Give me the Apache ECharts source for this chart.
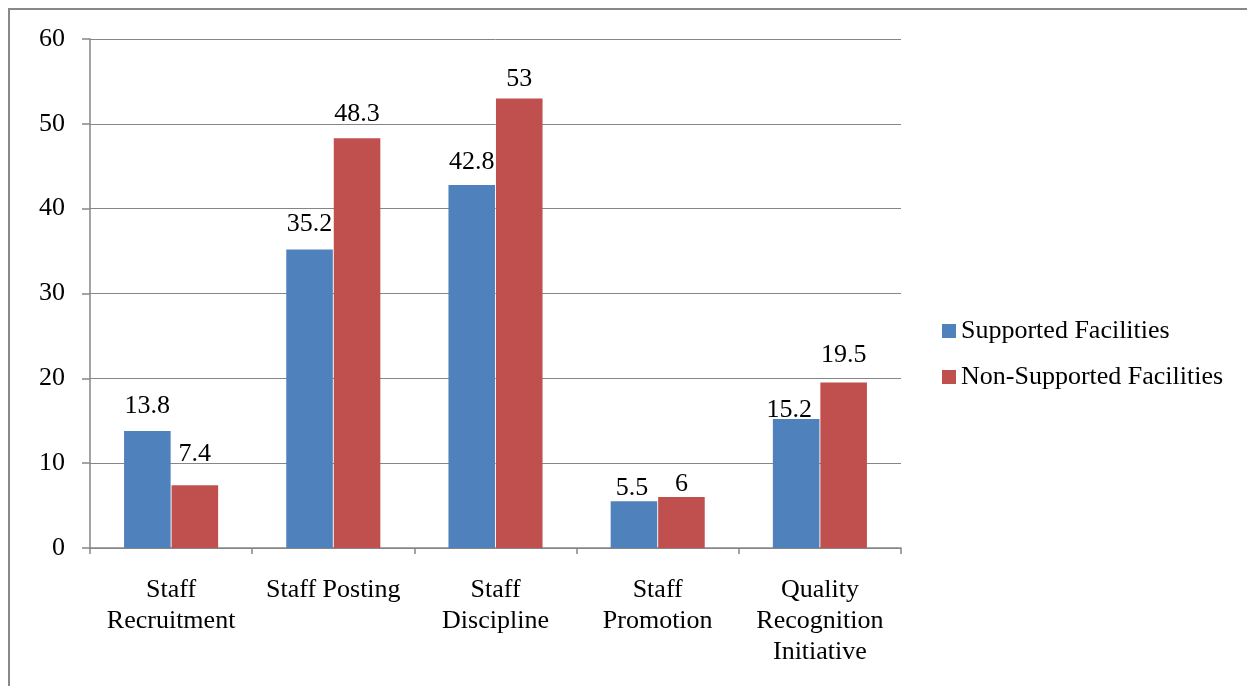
<!DOCTYPE html>
<html>
<head>
<meta charset="utf-8">
<script src="https://cdn.jsdelivr.net/npm/echarts@6/dist/echarts.min.js"></script>
<style>
  html, body { margin: 0; padding: 0; background: #fff; }
  #main { width: 1247px; height: 686px; }
</style>
</head>
<body>
<div id="main"></div>
<script>
var categories = ['Staff\nRecruitment', 'Staff Posting', 'Staff\nDiscipline', 'Staff\nPromotion', 'Quality\nRecognition\nInitiative'];
var supported = [13.8, 35.2, 42.8, 5.5, 15.2];
var nonSupported = [7.4, 48.3, 53, 6, 19.5];
var seriesNames = ['Supported Facilities', 'Non-Supported Facilities'];

// label lift above each bar, as in the original (labels were hand placed)
var liftSupported = [12, 12, 10, 0, -4];
var liftNonSupported = [18, 11, 6, 0, 14];
var shiftSupported = [0, 0, 0, -2, -7];

var font = '"Liberation Serif", "Times New Roman", serif';

function buildItems(values, lifts, shifts) {
  return values.map(function (v, i) {
    return {
      value: v,
      label: { distance: lifts[i], offset: [shifts ? shifts[i] : 0, 0] }
    };
  });
}

var myChart = echarts.init(document.getElementById('main'));

var barLabel = { show: true, position: 'top', fontFamily: font, fontSize: 26, color: '#000' };

var option = {
  animation: false,
  textStyle: { fontFamily: font },
  graphic: [{
    type: 'rect',
    shape: { x: 9, y: 9, width: 1400, height: 900 },
    style: { fill: 'none', stroke: '#888888', lineWidth: 2 },
    silent: true
  }],
  legend: {
    orient: 'vertical',
    left: 937,
    top: 313,
    itemWidth: 14,
    itemHeight: 14,
    itemGap: 20,
    icon: 'rect',
    textStyle: { fontFamily: font, fontSize: 26, color: '#000' },
    data: seriesNames
  },
  grid: { left: 90, right: 346, top: 39, bottom: 138, containLabel: false },
  xAxis: {
    type: 'category',
    data: categories,
    axisLine: { lineStyle: { color: '#868686', width: 1.5 } },
    axisTick: { show: true, length: 6, lineStyle: { color: '#868686', width: 1.5 } },
    axisLabel: { fontFamily: font, fontSize: 26, color: '#000', margin: 27, lineHeight: 31, interval: 0 }
  },
  yAxis: {
    type: 'value',
    min: 0, max: 60, interval: 10,
    axisLine: { show: true, lineStyle: { color: '#868686', width: 1.5 } },
    axisTick: { show: true, length: 8, lineStyle: { color: '#868686', width: 1.5 } },
    splitLine: { lineStyle: { color: '#868686', width: 1 } },
    axisLabel: { fontFamily: font, fontSize: 26, color: '#000', margin: 25 }
  },
  series: [{
    name: seriesNames[0],
    type: 'bar',
    data: buildItems(supported, liftSupported, shiftSupported),
    barGap: '2%',
    barCategoryGap: '42%',
    itemStyle: { color: '#4F81BD' },
    label: barLabel
  }, {
    name: seriesNames[1],
    type: 'bar',
    data: buildItems(nonSupported, liftNonSupported),
    barGap: '2%',
    barCategoryGap: '42%',
    itemStyle: { color: '#C0504D' },
    label: barLabel
  }]
};

myChart.setOption(option);
</script>
</body>
</html>
